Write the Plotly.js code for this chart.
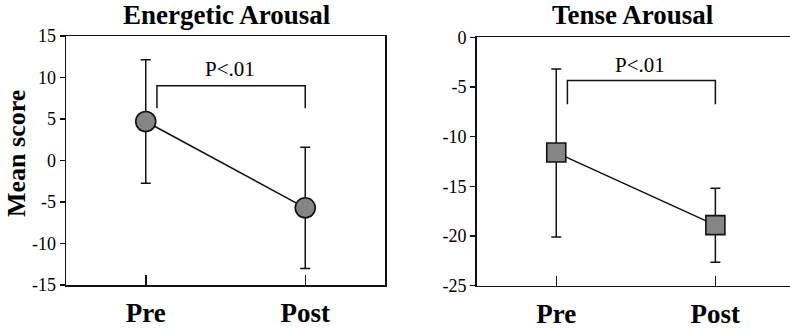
<!DOCTYPE html>
<html>
<head>
<meta charset="utf-8">
<script src="https://cdn.plot.ly/plotly-3.0.1.min.js"></script>
<style>html,body{margin:0;padding:0;background:#fff;}#chart{width:790px;height:329px;}</style>
</head>
<body>
<div id="chart"></div>
<script>
// ---- data ----
const categories = ["Pre", "Post"];
const categoryPos = [0, 1];

const energeticMean = [4.7, -5.7];
const energeticErr = [7.45, 7.3];
const tenseMean = [-11.6, -18.9];
const tenseErrPlus = [8.4, 3.7];
const tenseErrMinus = [8.5, 3.75];

const energeticTicks = [15, 10, 5, 0, -5, -10, -15];
const energeticTickText = ["15", "10", "5", "0", "-5", "-10", "-15"];
const tenseTicks = [0, -5, -10, -15, -20, -25];
const tenseTickText = ["0", "-5", "-10", "-15", "-20", "-25"];

const bracketX = [0.07, 0.07, 1, 1];
const energeticBracketY = [6.3, 9.0, 9.0, 6.3];
const tenseBracketY = [-6.75, -4.35, -4.35, -6.75];
const sigLabel = "P<.01";
const energeticSigPos = [0.527, 11.0];
const tenseSigPos = [0.527, -2.75];

const serif = "Liberation Serif";

const markerCommon = {size: 20, color: "#858585", line: {color: "#111", width: 1.6}};
const errStyle = {color: "#111", thickness: 1.5, width: 5};

const traces = [
  {x: bracketX, y: energeticBracketY, xaxis: "x", yaxis: "y", mode: "lines",
   line: {color: "#111", width: 1.5}, hoverinfo: "skip", showlegend: false},
  {x: categoryPos, y: energeticMean, xaxis: "x", yaxis: "y", mode: "lines+markers",
   line: {color: "#111", width: 1.5},
   marker: Object.assign({symbol: "circle"}, markerCommon),
   error_y: Object.assign({type: "data", array: energeticErr, visible: true}, errStyle),
   showlegend: false},
  {x: bracketX, y: tenseBracketY, xaxis: "x2", yaxis: "y2", mode: "lines",
   line: {color: "#111", width: 1.5}, hoverinfo: "skip", showlegend: false},
  {x: categoryPos, y: tenseMean, xaxis: "x2", yaxis: "y2", mode: "lines+markers",
   line: {color: "#111", width: 1.5},
   marker: Object.assign({symbol: "square"}, markerCommon, {size: 19}),
   error_y: Object.assign({type: "data", symmetric: false, array: tenseErrPlus, arrayminus: tenseErrMinus, visible: true}, errStyle),
   showlegend: false}
];

const xCommon = {
  tickvals: categoryPos, ticktext: categories,
  ticks: "inside", ticklen: 10, tickwidth: 1.5, tickcolor: "#111",
  showline: true, linecolor: "#111", linewidth: 1.5, mirror: true,
  showgrid: false, zeroline: false, fixedrange: true,
  tickfont: {family: serif, size: 27, color: "#000", weight: "bold"},
  ticklabelstandoff: 3
};
const yCommon = {
  ticks: "outside", ticklen: 5, tickwidth: 1.5, tickcolor: "#111",
  showline: true, linecolor: "#111", linewidth: 1.5,
  showgrid: false, zeroline: false, fixedrange: true,
  tickfont: {family: serif, size: 18, color: "#000", weight: "normal"}
};

const layout = {
  width: 790, height: 329,
  margin: {l: 0, r: 0, t: 0, b: 0},
  paper_bgcolor: "#fff", plot_bgcolor: "#fff",
  font: {family: serif},
  showlegend: false,
  xaxis: Object.assign({}, xCommon, {domain: [66/790, 385/790], range: [-0.5, 1.5], anchor: "y"}),
  yaxis: Object.assign({}, yCommon, {domain: [44/329, 293/329], range: [-15, 15], anchor: "x",
    tickvals: energeticTicks, ticktext: energeticTickText, mirror: true}),
  xaxis2: Object.assign({}, xCommon, {domain: [476.7/790, 1], range: [-0.5, 1.469], anchor: "y2"}),
  yaxis2: Object.assign({}, yCommon, {domain: [43.3/329, 291.7/329], range: [-25, 0], anchor: "x2",
    tickvals: tenseTicks, ticktext: tenseTickText, mirror: false}),
  annotations: [
    {text: "Energetic Arousal", xref: "paper", yref: "paper", x: 227.5/790, y: 1 - 15.5/329,
     xanchor: "center", yanchor: "middle", showarrow: false,
     font: {family: serif, size: 27, color: "#000", weight: "bold"}},
    {text: "Tense Arousal", xref: "paper", yref: "paper", x: 632.8/790, y: 1 - 15.5/329,
     xanchor: "center", yanchor: "middle", showarrow: false,
     font: {family: serif, size: 27, color: "#000", weight: "bold"}},
    {text: "Mean score", xref: "paper", yref: "paper", x: 16.5/790, y: 1 - 153.5/329,
     xanchor: "center", yanchor: "middle", showarrow: false, textangle: -90,
     font: {family: serif, size: 26, color: "#000", weight: "bold"}},
    {text: sigLabel, xref: "x", yref: "y", x: energeticSigPos[0], y: energeticSigPos[1],
     xanchor: "center", yanchor: "middle", showarrow: false,
     font: {family: serif, size: 21, color: "#000", weight: "normal"}},
    {text: sigLabel, xref: "x2", yref: "y2", x: tenseSigPos[0], y: tenseSigPos[1],
     xanchor: "center", yanchor: "middle", showarrow: false,
     font: {family: serif, size: 21, color: "#000", weight: "normal"}}
  ]
};

Plotly.newPlot("chart", traces, layout, {displayModeBar: false, staticPlot: true});
</script>
</body>
</html>
